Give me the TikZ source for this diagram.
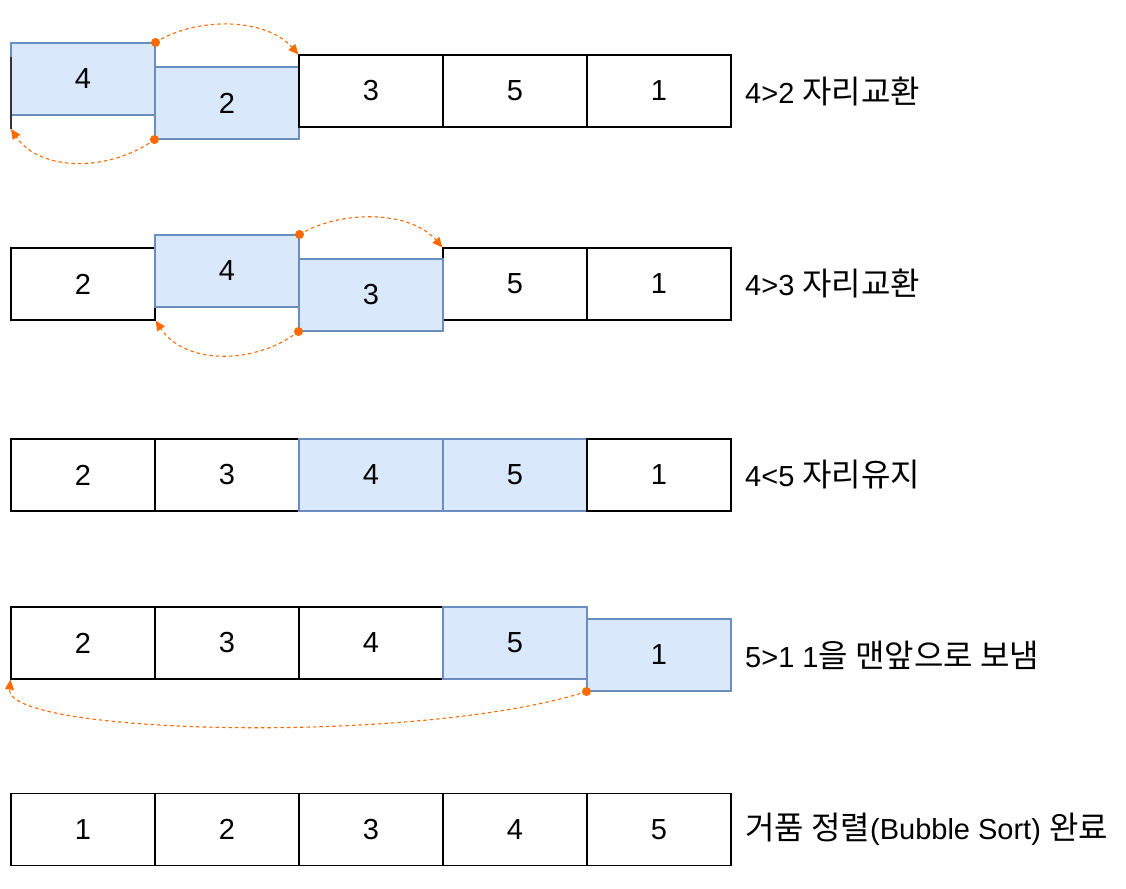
\documentclass[tikz,border=0pt]{standalone}
\usepackage{fontspec}
\setmainfont{Liberation Sans}
\newfontfamily\krfont{Noto Sans CJK KR}
\newcommand{\kr}[1]{{\krfont\fontsize{32}{36}\selectfont #1}}
\usetikzlibrary{arrows.meta}
\definecolor{bluefill}{HTML}{DAE8FC}
\definecolor{bluedraw}{HTML}{6C8EBF}
\definecolor{swaporange}{HTML}{FF6A00}
\tikzset{
  cell/.style={draw=black, line width=1.1pt, fill=white, minimum width=144pt, minimum height=72pt, inner sep=0pt, font=\fontsize{29}{33}\selectfont},
  bluecell/.style={cell, draw=bluedraw, fill=bluefill},
  rowlabel/.style={anchor=west, inner sep=0pt, font=\fontsize{29}{33}\selectfont},
  swaparrow/.style={draw=swaporange, line width=1.1pt, dash pattern=on 3.5pt off 3pt, -{Triangle[length=10pt,width=9pt]}},
  startdot/.style={fill=swaporange, draw=none},
  edgeline/.style={draw=black!80, line width=1.1pt}
}
\begin{document}
\begin{tikzpicture}[x=1pt,y=-1pt]
\useasboundingbox (0,0) rectangle (1126,888);
% Row 1
\node[bluecell] (r1a) at (83,79) {4};
\node[bluecell] (r1b) at (227,103) {2};
\node[cell] (r1c) at (371,91) {3};
\node[cell] (r1d) at (515,91) {5};
\node[cell] (r1e) at (659,91) {1};
\coordinate (r1top) at (11,57);
\coordinate (r1end) at (11,129);
\draw[edgeline] (r1top) -- (r1end);
\node[rowlabel] (r1l) at (745,91) {4>2 \kr{자리교환}};
\draw[swaparrow] (r1a.north east) .. controls (195,17) and (265,17) .. (r1c.north west);
\draw[swaparrow] (r1b.south west) .. controls (110,172) and (40,172) .. (r1end);
\fill[startdot] (r1a.north east) circle (4.5pt);
\fill[startdot] (r1b.south west) circle (4.5pt);
% Row 2
\node[cell] (r2a) at (83,284) {2};
\node[cell] (r2d) at (515,284) {5};
\node[cell] (r2e) at (659,284) {1};
\node[bluecell] (r2b) at (227,271) {4};
\node[bluecell] (r2c) at (371,295) {3};
\node[rowlabel] (r2l) at (745,283) {4>3 \kr{자리교환}};
\draw[swaparrow] (r2b.north east) .. controls (340,210) and (410,210) .. (r2d.north west);
\draw[swaparrow] (r2c.south west) .. controls (255,365) and (185,365) .. (r2a.south east);
\fill[startdot] (r2b.north east) circle (4.5pt);
\fill[startdot] (r2c.south west) circle (4.5pt);
% Row 3
\node[cell] (r3a) at (83,475) {2};
\node[cell] (r3b) at (227,475) {3};
\node[bluecell] (r3c) at (371,475) {4};
\node[bluecell] (r3d) at (515,475) {5};
\node[cell] (r3e) at (659,475) {1};
\node[rowlabel] (r3l) at (745,475) {4<5 \kr{자리유지}};
% Row 4
\node[cell] (r4a) at (83,643) {2};
\node[cell] (r4b) at (227,643) {3};
\node[cell] (r4c) at (371,643) {4};
\node[bluecell] (r4d) at (515,643) {5};
\node[bluecell] (r4e) at (659,655) {1};
\node[rowlabel] (r4l) at (745,655) {5>1 1\kr{을 맨앞으로 보냄}};
\draw[swaparrow] (r4e.south west) .. controls (420,745) and (5,735) .. (r4a.south west);
\fill[startdot] (r4e.south west) circle (4.5pt);
% Row 5
\node[cell] (r5a) at (83,829.5) {1};
\node[cell] (r5b) at (227,829.5) {2};
\node[cell] (r5c) at (371,829.5) {3};
\node[cell] (r5d) at (515,829.5) {4};
\node[cell] (r5e) at (659,829.5) {5};
\node[rowlabel] (r5l) at (745,829.5) {\kr{거품 정렬}(Bubble Sort) \kr{완료}};
\end{tikzpicture}
\end{document}
